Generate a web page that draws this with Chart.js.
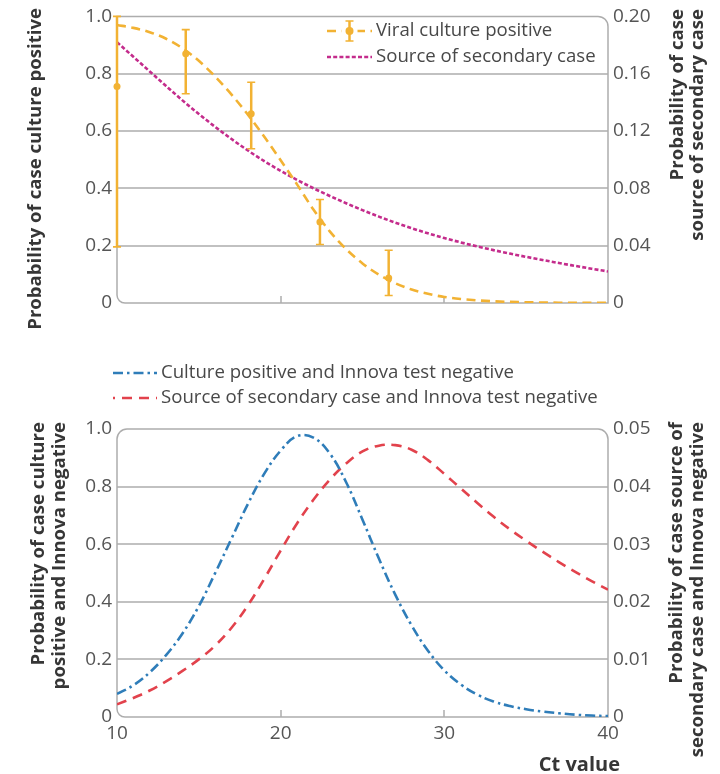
<!DOCTYPE html>
<html>
<head>
<meta charset="utf-8">
<title>Ct value, culture positivity and onward transmission</title>
<script src="https://cdn.jsdelivr.net/npm/chart.js@4.4.1/dist/chart.umd.min.js"></script>
<style>
  html, body { margin: 0; padding: 0; background: #ffffff; }
  #wrap { position: relative; width: 720px; height: 774px; overflow: hidden; }
  .panel { position: absolute; left: 0; width: 720px; }
  #topPanel { top: 0; height: 340px; }
  #bottomPanel { top: 340px; height: 434px; }
</style>
</head>
<body>
<div id="wrap">
  <div class="panel" id="topPanel"><canvas id="cultureChart"></canvas></div>
  <div class="panel" id="bottomPanel"><canvas id="innovaChart"></canvas></div>
</div>
<script>
// Ct values at which the fitted curves are tabulated
const ctGrid = [10, 11, 12, 13, 14, 15, 16, 17, 18, 19, 20, 21, 22, 23, 24, 25,
                26, 27, 28, 29, 30, 31, 32, 33, 34, 35, 36, 37, 38, 39, 40];

// Fitted probability that a case is viral culture positive (left axis)
const culturePositiveFit = [0.970, 0.960, 0.945, 0.922, 0.889, 0.845, 0.790, 0.727, 0.657, 0.580, 0.498,
                            0.414, 0.326, 0.250, 0.188, 0.138, 0.099, 0.069, 0.047, 0.032, 0.021,
                            0.0140, 0.0092, 0.0060, 0.0039, 0.0025, 0.0016, 0.0010, 0.0007, 0.0005, 0.0003];

// Fitted probability that a case is the source of a secondary case (right axis)
const secondarySourceFit = [0.1820, 0.1718, 0.1616, 0.1514, 0.1414, 0.1319, 0.1229, 0.1144, 0.1064, 0.0990, 0.0922,
                            0.0859, 0.0801, 0.0747, 0.0696, 0.0648, 0.0603, 0.0561, 0.0522, 0.0486, 0.0453,
                            0.0423, 0.0395, 0.0369, 0.0345, 0.0322, 0.0300, 0.0279, 0.0259, 0.0239, 0.0220];

// Observed culture positivity by Ct band: centre, estimate and 95% interval
const cultureObsCt   = [10.0, 14.2, 18.2, 22.4, 26.6];
const cultureObs     = [0.755, 0.870, 0.660, 0.283, 0.087];
const cultureObsLow  = [0.196, 0.730, 0.538, 0.204, 0.026];
const cultureObsHigh = [1.000, 0.954, 0.770, 0.361, 0.184];

// Probability of being culture positive and Innova negative (left axis)
const cultureInnovaNeg = [0.080, 0.110, 0.155, 0.215, 0.290, 0.385, 0.500, 0.620, 0.740, 0.845, 0.925,
                          0.975, 0.970, 0.915, 0.815, 0.685, 0.550, 0.425, 0.318, 0.230, 0.162,
                          0.113, 0.078, 0.054, 0.038, 0.027, 0.019, 0.013, 0.008, 0.005, 0.003];

// Probability of being a source of a secondary case and Innova negative (right axis)
const secondaryInnovaNeg = [0.0022, 0.0033, 0.0046, 0.0062, 0.0080, 0.0100, 0.0124, 0.0155, 0.0194, 0.0240, 0.0289,
                            0.0336, 0.0377, 0.0412, 0.0440, 0.0461, 0.0471, 0.0472, 0.0464, 0.0446, 0.0422,
                            0.0397, 0.0372, 0.0348, 0.0326, 0.0306, 0.0287, 0.0269, 0.0252, 0.0236, 0.0221];

// Tick labels
const ctTickLabels       = ['10', '20', '30', '40'];
const probTickLabels     = ['0', '0.2', '0.4', '0.6', '0.8', '1.0'];
const secondaryTickTop   = ['0', '0.04', '0.08', '0.12', '0.16', '0.20'];
const secondaryTickBelow = ['0', '0.01', '0.02', '0.03', '0.04', '0.05'];

// Legend and axis texts
const legendTop    = ['Viral culture positive', 'Source of secondary case'];
const legendBottom = ['Culture positive and Innova test negative',
                      'Source of secondary case and Innova test negative'];
const titleTopLeft     = ['Probability of case culture positive'];
const titleTopRight    = ['Probability of case', 'source of secondary case'];
const titleBottomLeft  = ['Probability of case culture', 'positive and Innova negative'];
const titleBottomRight = ['Probability of case source of', 'secondary case and Innova negative'];
const ctTitle = 'Ct value';

const FONT = '"Open Sans", "Noto Sans", sans-serif';
const ORANGE = '#f2b233';
const MAGENTA = '#c42c8c';
const BLUE = '#2f7db9';
const RED = '#e2424c';
const GRID = '#adadad';
const FRAME = '#adadad';
const TICK_TEXT = '#555555';
const LEGEND_TEXT = '#484848';
const TITLE_TEXT = '#363636';

Chart.defaults.font.family = FONT;
Chart.defaults.animation = false;
Chart.defaults.devicePixelRatio = 1;

const xy = (xs, ys) => xs.map((x, i) => ({ x: x, y: ys[i] }));

// Plot frame with rounded corners, inner horizontal grid lines and
// short inward ticks on the Ct axis
const framePlugin = {
  id: 'frame',
  beforeDatasetsDraw(chart, args, opts) {
    const { ctx, chartArea: a } = chart;
    const r = opts.radius;
    ctx.save();
    ctx.setLineDash([]);
    ctx.lineWidth = 1.5;
    ctx.strokeStyle = GRID;
    const ys = chart.scales.y;
    const n = ys.ticks.length;
    for (let i = 1; i < n - 1; i++) {
      const py = Math.round(ys.getPixelForValue(ys.ticks[i].value));
      ctx.beginPath();
      ctx.moveTo(a.left, py);
      ctx.lineTo(a.right, py);
      ctx.stroke();
    }
    ctx.strokeStyle = FRAME;
    ctx.beginPath();
    ctx.moveTo(a.left + r.tl, a.top);
    ctx.lineTo(a.right - r.tr, a.top);
    ctx.arcTo(a.right, a.top, a.right, a.top + r.tr, r.tr);
    ctx.lineTo(a.right, a.bottom - r.br);
    ctx.arcTo(a.right, a.bottom, a.right - r.br, a.bottom, r.br);
    ctx.lineTo(a.left + r.bl, a.bottom);
    ctx.arcTo(a.left, a.bottom, a.left, a.bottom - r.bl, r.bl);
    ctx.lineTo(a.left, a.top + r.tl);
    ctx.arcTo(a.left, a.top, a.left + r.tl, a.top, r.tl);
    ctx.closePath();
    ctx.stroke();
    const xs = chart.scales.x;
    xs.ticks.forEach((t, i) => {
      if (i === 0 || i === xs.ticks.length - 1) return;
      const px = Math.round(xs.getPixelForValue(t.value));
      ctx.beginPath();
      ctx.moveTo(px, a.bottom);
      ctx.lineTo(px, a.bottom - 7);
      ctx.stroke();
    });
    ctx.restore();
  }
};

function drawErrorBar(ctx, x, yLow, yHigh, color) {
  ctx.save();
  ctx.strokeStyle = color;
  ctx.lineWidth = 2.5;
  ctx.setLineDash([]);
  ctx.beginPath();
  ctx.moveTo(x, yLow); ctx.lineTo(x, yHigh);
  ctx.stroke();
  ctx.lineWidth = 1.6;
  ctx.beginPath();
  ctx.moveTo(x - 4, yLow); ctx.lineTo(x + 4, yLow);
  ctx.moveTo(x - 4, yHigh); ctx.lineTo(x + 4, yHigh);
  ctx.stroke();
  ctx.restore();
}

// Vertical interval bars for datasets carrying errorLow / errorHigh
const errorBarPlugin = {
  id: 'errorBars',
  beforeDatasetDraw(chart, args) {
    const ds = chart.data.datasets[args.index];
    if (!ds.errorLow) return;
    const xs = chart.scales[ds.xAxisID || 'x'];
    const ys = chart.scales[ds.yAxisID || 'y'];
    ds.data.forEach((p, i) => {
      drawErrorBar(chart.ctx, xs.getPixelForValue(p.x),
        ys.getPixelForValue(ds.errorLow[i]), ys.getPixelForValue(ds.errorHigh[i]),
        ds.borderColor);
    });
  }
};

// Legend drawn from the datasets' own line and marker styles
const sampleLegendPlugin = {
  id: 'sampleLegend',
  afterDraw(chart, args, opts) {
    const { ctx } = chart;
    ctx.save();
    opts.items.forEach((item, row) => {
      const y = opts.top + row * opts.rowGap;
      const x0 = opts.left, x1 = opts.left + opts.sampleWidth;
      item.datasets.forEach(idx => {
        const ds = chart.data.datasets[idx];
        if (ds.showLine === false) {
          const cx = (x0 + x1) / 2;
          ctx.fillStyle = '#ffffff';
          ctx.fillRect(cx - 8, y - 3, 16, 6);
          drawErrorBar(ctx, cx, y + 10, y - 10, ds.borderColor);
          ctx.fillStyle = ds.backgroundColor;
          ctx.beginPath();
          ctx.arc(cx, y, ds.pointRadius + 0.5, 0, Math.PI * 2);
          ctx.fill();
        } else {
          ctx.strokeStyle = ds.borderColor;
          ctx.lineWidth = ds.borderWidth;
          ctx.setLineDash(ds.borderDash || []);
          ctx.lineDashOffset = item.dashOffset || 0;
          ctx.beginPath();
          ctx.moveTo(x0, y); ctx.lineTo(x1, y);
          ctx.stroke();
          ctx.setLineDash([]);
        }
      });
      ctx.fillStyle = LEGEND_TEXT;
      ctx.font = opts.fontSize + 'px ' + FONT;
      ctx.textAlign = 'left';
      ctx.textBaseline = 'middle';
      ctx.fillText(item.text, x1 + 4, y);
    });
    ctx.restore();
  }
};

// Rotated axis titles reading bottom to top, anchored at their top end
const sideTitlePlugin = {
  id: 'sideTitles',
  afterDraw(chart, args, opts) {
    const { ctx } = chart;
    ctx.save();
    ctx.fillStyle = TITLE_TEXT;
    ctx.font = 'bold ' + opts.fontSize + 'px ' + FONT;
    ctx.textBaseline = 'middle';
    opts.titles.forEach(t => {
      t.lines.forEach((line, i) => {
        ctx.save();
        ctx.translate(t.x + i * opts.lineGap, t.top);
        ctx.rotate(-Math.PI / 2);
        ctx.textAlign = 'right';
        ctx.fillText(line, 0, 0);
        ctx.restore();
      });
    });
    if (opts.xTitle) {
      ctx.font = 'bold ' + opts.xTitle.fontSize + 'px ' + FONT;
      ctx.textAlign = 'right';
      ctx.fillText(opts.xTitle.text, opts.xTitle.right, opts.xTitle.y);
    }
    ctx.restore();
  }
};

function yScale(position, max, step, labels, width) {
  return {
    type: 'linear',
    position: position,
    min: 0, max: max,
    border: { display: false },
    grid: { display: false, drawTicks: false },
    ticks: {
      stepSize: step,
      padding: 5,
      color: TICK_TEXT,
      font: { size: 19 },
      callback: (v, i) => labels[i]
    },
    afterFit: s => { s.width = width; }
  };
}

function xScale(showLabels, height) {
  return {
    type: 'linear',
    min: 10, max: 40,
    border: { display: false },
    grid: { display: false, drawTicks: false },
    ticks: {
      display: showLabels,
      stepSize: 10,
      padding: 5,
      maxRotation: 0,
      color: TICK_TEXT,
      font: { size: 19 },
      callback: (v, i) => ctTickLabels[i]
    },
    afterFit: s => { s.height = height; }
  };
}

// Upper panel: culture positivity and onward transmission by Ct value
new Chart(document.getElementById('cultureChart'), {
  type: 'line',
  data: {
    datasets: [
      {
        label: legendTop[0],
        data: xy(cultureObsCt, cultureObs),
        errorLow: cultureObsLow,
        errorHigh: cultureObsHigh,
        showLine: false,
        borderColor: ORANGE,
        backgroundColor: ORANGE,
        pointRadius: 3.5,
        pointBorderWidth: 0,
        clip: false,
        yAxisID: 'y'
      },
      {
        label: legendTop[0],
        data: xy(ctGrid, culturePositiveFit),
        borderColor: ORANGE,
        borderWidth: 2.6,
        borderDash: [9, 5.5],
        pointRadius: 0,
        cubicInterpolationMode: 'monotone',
        fill: false,
        yAxisID: 'y'
      },
      {
        label: legendTop[1],
        data: xy(ctGrid, secondarySourceFit),
        borderColor: MAGENTA,
        borderWidth: 2.6,
        borderDash: [4, 2.2],
        pointRadius: 0,
        cubicInterpolationMode: 'monotone',
        fill: false,
        yAxisID: 'y1'
      }
    ]
  },
  options: {
    responsive: true,
    maintainAspectRatio: false,
    layout: { padding: { top: 15, left: 0, right: 0, bottom: 0 } },
    scales: {
      x: xScale(false, 37),
      y: yScale('left', 1, 0.2, probTickLabels, 117),
      y1: yScale('right', 0.2, 0.04, secondaryTickTop, 112)
    },
    plugins: {
      legend: { display: false },
      tooltip: { enabled: false },
      frame: { radius: { tl: 0, tr: 10, br: 0, bl: 8 } },
      sampleLegend: {
        left: 327, top: 31, rowGap: 26, sampleWidth: 45, fontSize: 18.6,
        items: [
          { text: legendTop[0], datasets: [1, 0] },
          { text: legendTop[1], datasets: [2] }
        ]
      },
      sideTitles: {
        fontSize: 18.6, lineGap: 20,
        titles: [
          { lines: titleTopLeft, x: 36, top: 8 },
          { lines: titleTopRight, x: 678, top: 9 }
        ]
      }
    }
  },
  plugins: [framePlugin, errorBarPlugin, sampleLegendPlugin, sideTitlePlugin]
});

// Lower panel: cases missed by the Innova test, by Ct value
new Chart(document.getElementById('innovaChart'), {
  type: 'line',
  data: {
    datasets: [
      {
        label: legendBottom[0],
        data: xy(ctGrid, cultureInnovaNeg),
        borderColor: BLUE,
        borderWidth: 2.6,
        borderDash: [10, 4, 2.5, 4],
        pointRadius: 0,
        tension: 0.4,
        fill: false,
        yAxisID: 'y'
      },
      {
        label: legendBottom[1],
        data: xy(ctGrid, secondaryInnovaNeg),
        borderColor: RED,
        borderWidth: 2.6,
        borderDash: [10, 7],
        pointRadius: 0,
        tension: 0.4,
        fill: false,
        yAxisID: 'y1'
      }
    ]
  },
  options: {
    responsive: true,
    maintainAspectRatio: false,
    layout: { padding: { top: 89, left: 0, right: 0, bottom: 0 } },
    scales: {
      x: xScale(true, 57),
      y: yScale('left', 1, 0.2, probTickLabels, 117),
      y1: yScale('right', 0.05, 0.01, secondaryTickBelow, 112)
    },
    plugins: {
      legend: { display: false },
      tooltip: { enabled: false },
      frame: { radius: { tl: 10, tr: 10, br: 0, bl: 8 } },
      sampleLegend: {
        left: 113, top: 33, rowGap: 25, sampleWidth: 44, fontSize: 18.6,
        items: [
          { text: legendBottom[0], datasets: [0] },
          { text: legendBottom[1], datasets: [1], dashOffset: 8 }
        ]
      },
      sideTitles: {
        fontSize: 18.6, lineGap: 21,
        titles: [
          { lines: titleBottomLeft, x: 39, top: 82 },
          { lines: titleBottomRight, x: 677, top: 82 }
        ],
        xTitle: { text: ctTitle, right: 620, y: 425, fontSize: 20 }
      }
    }
  },
  plugins: [framePlugin, sampleLegendPlugin, sideTitlePlugin]
});
</script>
</body>
</html>
